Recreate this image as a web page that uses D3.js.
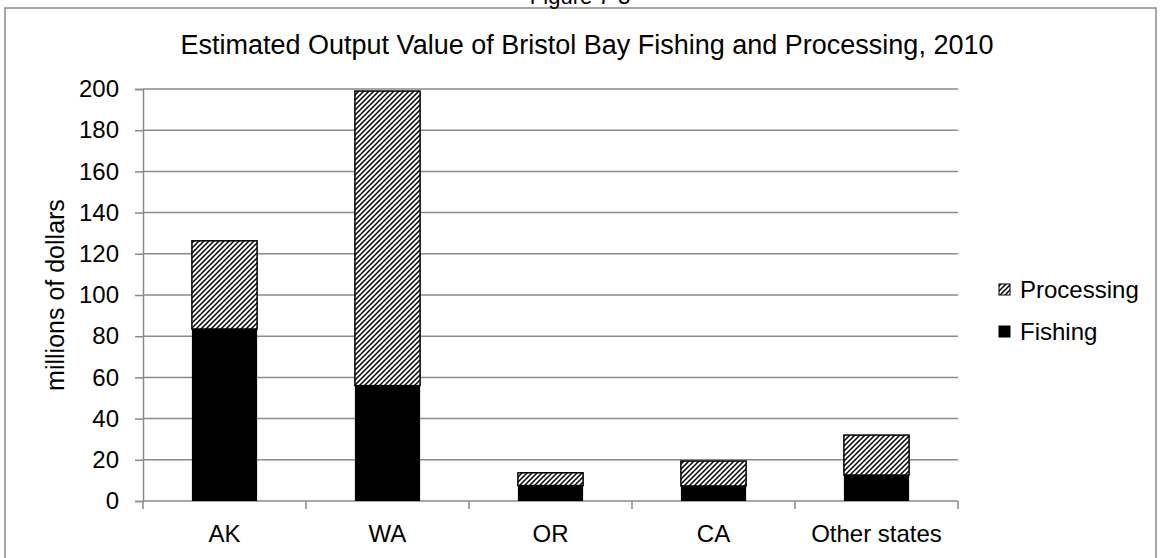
<!DOCTYPE html>
<html>
<head>
<meta charset="utf-8">
<script src="https://cdn.jsdelivr.net/npm/d3@7"></script>
<style>
  html, body { margin: 0; padding: 0; background: #fff; }
  svg { display: block; font-family: "Liberation Sans", Arial, sans-serif; }
</style>
</head>
<body>
<svg id="chart" width="1161" height="558"></svg>
<script>
const categories = ["AK", "WA", "OR", "CA", "Other states"];
const fishing = [83.5, 56, 7.5, 7.3, 12.6];
const processing = [42.8, 143, 6.2, 12.1, 19.4];
const yTicks = [0, 20, 40, 60, 80, 100, 120, 140, 160, 180, 200];
const seriesNames = ["Fishing", "Processing"];
const figureLabel = "Figure 7-3";
const chartTitle = "Estimated Output Value of Bristol Bay Fishing and Processing, 2010";
const yTitle = "millions of dollars";

(function () {
const svg = d3.select("#chart");
const gridColor = "#8a8a8a";

// hatch pattern
const defs = svg.append("defs");
const pat = defs.append("pattern")
  .attr("id", "hatch").attr("patternUnits", "userSpaceOnUse")
  .attr("width", 5).attr("height", 5);
pat.append("rect").attr("width", 5).attr("height", 5).attr("fill", "#fff");
pat.append("path").attr("d", "M-1,1 l2,-2 M0,5 l5,-5 M4,6 l2,-2")
  .attr("stroke", "#000").attr("stroke-width", 1.5);

// frame
svg.append("rect").attr("x", 5).attr("y", 8).attr("width", 1151).attr("height", 570)
  .attr("fill", "none").attr("stroke", gridColor).attr("stroke-width", 1.5);

svg.append("text").attr("x", 580).attr("y", 4).attr("text-anchor", "middle")
  .attr("font-size", 22).text(figureLabel);

svg.append("text").attr("x", 587).attr("y", 54).attr("text-anchor", "middle")
  .attr("font-size", 27).text(chartTitle);

const pLeft = 143, pRight = 958, pTop = 89, pBottom = 501;
const xb = d3.scaleBand().domain(categories).range([pLeft, pRight]);
const y = d3.scaleLinear().domain([0, 200]).range([pBottom, pTop]);

// gridlines
svg.append("g").selectAll("line").data(yTicks.filter(d => d > 0)).join("line")
  .attr("x1", pLeft).attr("x2", pRight)
  .attr("y1", d => y(d)).attr("y2", d => y(d))
  .attr("stroke", gridColor).attr("stroke-width", 1.5);

// y axis
const yAxis = svg.append("g").attr("transform", `translate(${pLeft},0)`)
  .call(d3.axisLeft(y).tickValues(yTicks).tickSize(8).tickPadding(16));
yAxis.select(".domain").attr("stroke", gridColor).attr("stroke-width", 1.5);
yAxis.selectAll(".tick line").attr("stroke", gridColor).attr("stroke-width", 1.5);
yAxis.selectAll("text").attr("font-size", 24).attr("fill", "#000")
  .attr("font-family", "Liberation Sans, Arial, sans-serif");

// x axis
const xAxisG = svg.append("g").attr("transform", `translate(0,${pBottom})`);
xAxisG.append("line").attr("x1", pLeft).attr("x2", pRight).attr("y1", 0).attr("y2", 0)
  .attr("stroke", gridColor).attr("stroke-width", 1.5);
const bounds = categories.map(c => xb(c)).concat([pRight]);
xAxisG.selectAll("line.tk").data(bounds).join("line").attr("class", "tk")
  .attr("x1", d => d).attr("x2", d => d).attr("y1", 0).attr("y2", 8)
  .attr("stroke", gridColor).attr("stroke-width", 1.5);
xAxisG.selectAll("text").data(categories).join("text")
  .attr("x", d => xb(d) + xb.bandwidth() / 2).attr("y", 41)
  .attr("text-anchor", "middle").attr("font-size", 24).text(d => d);

// bars
const bw = xb.bandwidth() / 2.5;
const cx = c => xb(c) + xb.bandwidth() / 2;
svg.append("g").selectAll("rect").data(categories).join("rect")
  .attr("x", c => cx(c) - bw / 2).attr("width", bw)
  .attr("y", (c, i) => y(fishing[i])).attr("height", (c, i) => y(0) - y(fishing[i]))
  .attr("fill", "#000");
svg.append("g").selectAll("rect").data(categories).join("rect")
  .attr("x", c => cx(c) - bw / 2).attr("width", bw)
  .attr("y", (c, i) => y(fishing[i] + processing[i]))
  .attr("height", (c, i) => y(fishing[i]) - y(fishing[i] + processing[i]))
  .attr("fill", "url(#hatch)").attr("stroke", "#000").attr("stroke-width", 1.5);

// y title
svg.append("text").attr("transform", "translate(64,295) rotate(-90)")
  .attr("text-anchor", "middle").attr("font-size", 25).text(yTitle);

// legend
const leg = svg.append("g");
const legItems = [
  { name: seriesNames[1], fill: "url(#hatch)", y: 290 },
  { name: seriesNames[0], fill: "#000", y: 332 }
];
legItems.forEach(it => {
  leg.append("rect").attr("x", 999).attr("y", it.y - 6).attr("width", 11).attr("height", 11)
    .attr("fill", it.fill).attr("stroke", "#000").attr("stroke-width", 1);
  leg.append("text").attr("x", 1020).attr("y", it.y + 8).attr("font-size", 24).text(it.name);
});
})();
</script>
</body>
</html>
